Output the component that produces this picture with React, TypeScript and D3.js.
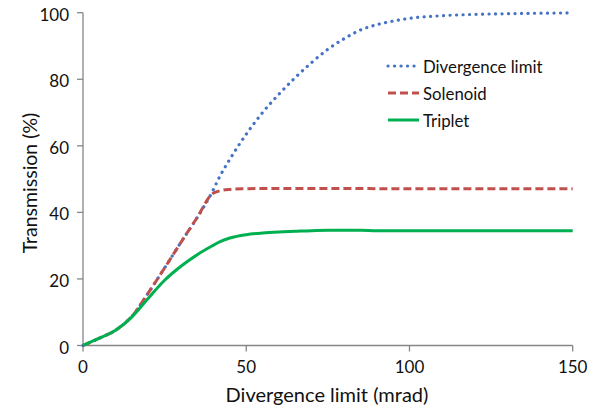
import React from "react";
import * as d3 from "d3";

const xs = [0, 5, 10, 15, 20, 25, 30, 35, 39.5, 42, 45, 50, 55, 60, 65, 70, 75, 80, 85, 90, 95, 100, 110, 120, 130, 140, 150];
const divergence = [0, 2.2, 4.6, 8.8, 15.8, 23.3, 31, 38.5, 46, 51, 56, 63.5, 70, 75.5, 80.5, 85, 89, 92.2, 94.8, 96.4, 97.5, 98.3, 99.1, 99.5, 99.7, 99.85, 99.95];
const solenoid = [0, 2.2, 4.6, 8.8, 15.8, 23.3, 31, 38.5, 45.5, 46.5, 46.9, 47.1, 47.2, 47.2, 47.2, 47.2, 47.2, 47.2, 47.2, 47.1, 47.1, 47.1, 47.1, 47.1, 47.1, 47.1, 47.1];
const triplet = [0, 2.2, 4.6, 8.6, 14.2, 19.6, 23.8, 27.3, 29.9, 31.2, 32.3, 33.3, 33.8, 34.1, 34.3, 34.5, 34.6, 34.6, 34.6, 34.5, 34.5, 34.5, 34.5, 34.5, 34.5, 34.5, 34.5];

const seriesNames = ["Divergence limit", "Solenoid", "Triplet"];
const xTicks = [0, 50, 100, 150];
const yTicks = [0, 20, 40, 60, 80, 100];
const xTitle = "Divergence limit (mrad)";
const yTitle = "Transmission (%)";

const FONT = "Lato, 'Open Sans', sans-serif";

export default function App() {
  const x = d3.scaleLinear().domain([0, 150]).range([83, 572.7]);
  const y = d3.scaleLinear().domain([0, 100]).range([345.5, 12.7]);
  const line = d3
    .line<number>()
    .x((_, i) => x(xs[i]))
    .y((d) => y(d))
    .curve(d3.curveMonotoneX);

  const styles = [
    { color: "#4472C4", dash: "0.1 6.4", cap: "round" as const, width: 3.2 },
    { color: "#C0504D", dash: "8 4", cap: "butt" as const, width: 3 },
    { color: "#00B050", dash: undefined, cap: "butt" as const, width: 3 },
  ];
  const data = [divergence, solenoid, triplet];
  const axisColor = "#868686";

  return (
    <svg
      width={606}
      height={412}
      style={{ position: "absolute", left: 0, top: 0, background: "#fff" }}
      fontFamily={FONT}
    >
      <rect width={606} height={412} fill="#fff" />
      {/* axes */}
      <line x1={x(0)} x2={x(0)} y1={y(100)} y2={y(0)} stroke={axisColor} strokeWidth={1.3} />
      <line x1={x(0)} x2={x(150)} y1={y(0)} y2={y(0)} stroke={axisColor} strokeWidth={1.3} />
      {yTicks.map((t) => (
        <g key={"y" + t}>
          <line x1={x(0) - 6} x2={x(0)} y1={y(t)} y2={y(t)} stroke={axisColor} strokeWidth={1.3} />
          <text x={69} y={y(t) + 1.5} textAnchor="end" dominantBaseline="central" fontSize={17} fill="#111">
            {t}
          </text>
        </g>
      ))}
      {xTicks.map((t) => (
        <g key={"x" + t}>
          <line x1={x(t)} x2={x(t)} y1={y(0)} y2={y(0) + 6} stroke={axisColor} strokeWidth={1.3} />
          <text x={x(t)} y={366} textAnchor="middle" dominantBaseline="central" fontSize={17} fill="#111">
            {t}
          </text>
        </g>
      ))}
      <text x={327} y={394} textAnchor="middle" dominantBaseline="central" fontSize={20} fill="#111">
        {xTitle}
      </text>
      <text
        transform={`translate(29,183) rotate(-90)`}
        textAnchor="middle"
        dominantBaseline="central"
        fontSize={19.5}
        fill="#111"
      >
        {yTitle}
      </text>
      {/* series */}
      {data.map((d, i) => (
        <path
          key={seriesNames[i]}
          d={line(d) || ""}
          fill="none"
          stroke={styles[i].color}
          strokeWidth={styles[i].width}
          strokeDasharray={styles[i].dash}
          strokeLinecap={styles[i].cap}
        />
      ))}
      {/* legend */}
      {seriesNames.map((n, i) => {
        const ly = 66 + i * 27;
        return (
          <g key={"lg" + n}>
            <line
              x1={388}
              x2={419}
              y1={ly}
              y2={ly}
              stroke={styles[i].color}
              strokeWidth={styles[i].width}
              strokeDasharray={styles[i].dash}
              strokeLinecap={styles[i].cap}
            />
            <text x={423} y={ly} dominantBaseline="central" fontSize={16.8} fill="#111">
              {n}
            </text>
          </g>
        );
      })}
    </svg>
  );
}
